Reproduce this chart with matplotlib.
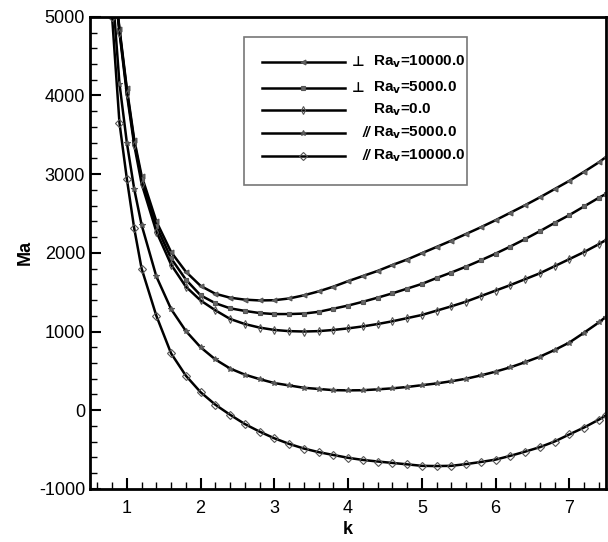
import matplotlib
matplotlib.use('agg')
from matplotlib import pyplot as plt
from matplotlib.ticker import MultipleLocator
from matplotlib.lines import Line2D
from matplotlib.patches import Rectangle

plt.rcParams['font.family'] = ['Liberation Sans', 'DejaVu Sans']
plt.rcParams['axes.unicode_minus'] = False

# wavenumber grid shared by all curves
k = [0.8, 0.9, 1.0, 1.1, 1.2, 1.4, 1.6, 1.8, 2.0, 2.2, 2.4, 2.6, 2.8, 3.0, 3.2, 3.4,
     3.6, 3.8, 4.0, 4.2, 4.4, 4.6, 4.8, 5.0, 5.2, 5.4, 5.6, 5.8, 6.0, 6.2, 6.4, 6.6,
     6.8, 7.0, 7.2, 7.4, 7.5]

ma_perp_10000 = [5700, 4850, 4090, 3440, 2980, 2400, 2010, 1760, 1580, 1480, 1430, 1405,
                 1395, 1398, 1420, 1460, 1510, 1570, 1640, 1705, 1770, 1845, 1915, 1995,
                 2075, 2155, 2240, 2325, 2415, 2510, 2605, 2705, 2810, 2915, 3030, 3150, 3220]
ma_perp_5000 = [5680, 4830, 4060, 3410, 2940, 2340, 1930, 1660, 1460, 1360, 1295, 1262,
                1235, 1222, 1222, 1228, 1250, 1290, 1330, 1378, 1430, 1485, 1545, 1605,
                1680, 1750, 1825, 1905, 1990, 2080, 2175, 2275, 2380, 2480, 2590, 2700, 2750]
ma_zero = [5650, 4800, 4020, 3370, 2880, 2270, 1850, 1570, 1395, 1270, 1160, 1095,
           1050, 1020, 1005, 1000, 1005, 1020, 1040, 1065, 1095, 1130, 1170, 1210,
           1265, 1320, 1380, 1450, 1520, 1590, 1665, 1740, 1830, 1920, 2010, 2110, 2165]
ma_par_5000 = [5400, 4150, 3400, 2810, 2355, 1700, 1285, 1007, 800, 645, 530, 452,
               395, 345, 315, 285, 270, 255, 252, 254, 265, 278, 295, 318,
               340, 368, 400, 442, 490, 545, 610, 680, 765, 860, 985, 1115, 1190]
ma_par_10000 = [5000, 3650, 2940, 2310, 1800, 1200, 722, 439, 229, 70, -58, -176,
                -272, -357, -428, -487, -533, -569, -605, -632, -652, -670, -688, -707,
                -710, -707, -685, -658, -628, -580, -527, -470, -398, -308, -220, -120, -65]

series = [
    (ma_perp_10000, '<', 3.5, '\u22a5', 'Ra$_\\mathbf{v}$=10000.0'),
    (ma_perp_5000, 's', 3.0, '\u22a5', 'Ra$_\\mathbf{v}$=5000.0'),
    (ma_zero, 'd', 4.0, '', 'Ra$_\\mathbf{v}$=0.0'),
    (ma_par_5000, '*', 4.0, '//', 'Ra$_\\mathbf{v}$=5000.0'),
    (ma_par_10000, 'D', 4.0, '//', 'Ra$_\\mathbf{v}$=10000.0'),
]

fig = plt.figure(figsize=(6.08, 5.42), dpi=100)
ax = fig.add_axes([0.148, 0.098, 0.849, 0.871])

for ma, mk, ms, _, _ in series:
    ax.plot(k, ma, color='black', lw=1.8, marker=mk, ms=ms,
            mfc='none' if mk in 'dD' else '#666666', mec='#555555', mew=0.8)

ax.set_xlim(0.5, 7.5)
ax.set_ylim(-1000, 5000)
ax.xaxis.set_major_locator(MultipleLocator(1))
ax.xaxis.set_minor_locator(MultipleLocator(0.2))
ax.yaxis.set_major_locator(MultipleLocator(1000))
ax.yaxis.set_minor_locator(MultipleLocator(200))
ax.tick_params(which='both', direction='in', top=False, right=False, labelsize=13, width=1.5)
ax.tick_params(which='major', length=8)
ax.tick_params(which='minor', length=5, width=1)
ax.tick_params(axis='x', which='major', pad=8)
for s in ax.spines.values():
    s.set_linewidth(2)

ax.set_xlabel('k', fontsize=13, fontweight='bold', labelpad=3)
ax.set_ylabel('Ma', fontsize=13, fontweight='bold', labelpad=4)

# Tecplot-style legend box
ax.add_patch(Rectangle((0.298, 0.644), 0.433, 0.314, transform=ax.transAxes,
                       facecolor='white', edgecolor='#777777', lw=1.2, zorder=5))
rows_y = [0.905, 0.850, 0.803, 0.754, 0.706]
for (ma, mk, ms, pre, lab), y in zip(series, rows_y):
    ax.add_line(Line2D([0.333, 0.494], [y, y], transform=ax.transAxes, color='black', lw=1.8, zorder=6))
    ax.add_line(Line2D([0.413], [y], transform=ax.transAxes, marker=mk, ms=ms,
                       mfc='none' if mk in 'dD' else '#666666', mec='#555555', mew=0.8, zorder=7))
    if pre == '//':
        ax.text(0.527, y, pre, transform=ax.transAxes, fontsize=10, fontweight='bold',
                fontstyle='italic', va='center', zorder=7)
    elif pre:
        ax.text(0.508, y, pre, transform=ax.transAxes, fontsize=10, fontweight='bold',
                va='center', zorder=7, family=['DejaVu Sans'])
    ax.text(0.548, y, lab, transform=ax.transAxes, fontsize=11, fontweight='bold',
            va='center', zorder=7)

fig.savefig('out.png', dpi=100)
